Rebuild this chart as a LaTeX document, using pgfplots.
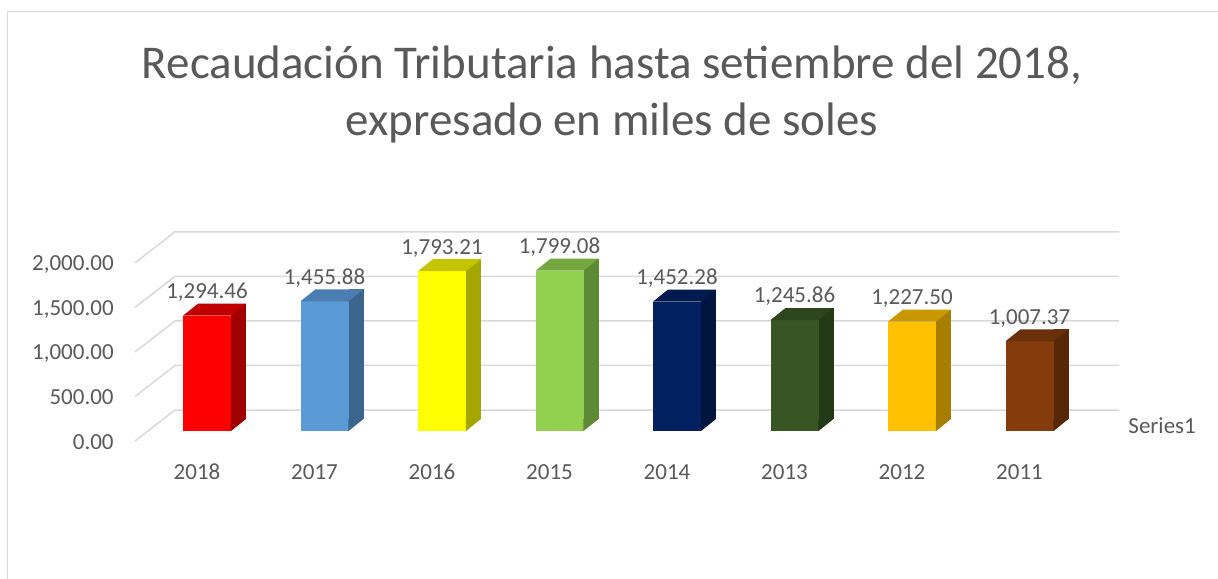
\documentclass[border=0pt]{standalone}
\usepackage{pgfplots}
\pgfplotsset{compat=1.18}
\usepackage{fontspec}
\setmainfont{Carlito}
\definecolor{txt}{HTML}{595959}
\definecolor{gridc}{HTML}{D9D9D9}
\definecolor{fA}{HTML}{FF0000}\definecolor{tA}{HTML}{C00000}\definecolor{sA}{HTML}{A00000}
\definecolor{fB}{HTML}{5B9BD5}\definecolor{tB}{HTML}{4A7EB0}\definecolor{sB}{HTML}{3A658C}
\definecolor{fC}{HTML}{FFFF00}\definecolor{tC}{HTML}{C4C400}\definecolor{sC}{HTML}{A6A600}
\definecolor{fD}{HTML}{92D050}\definecolor{tD}{HTML}{75A840}\definecolor{sD}{HTML}{5E8A34}
\definecolor{fE}{HTML}{002060}\definecolor{tE}{HTML}{001A4E}\definecolor{sE}{HTML}{001540}
\definecolor{fF}{HTML}{375623}\definecolor{tF}{HTML}{2C451C}\definecolor{sF}{HTML}{243A17}
\definecolor{fG}{HTML}{FFC000}\definecolor{tG}{HTML}{C99800}\definecolor{sG}{HTML}{A87E00}
\definecolor{fH}{HTML}{843C0C}\definecolor{tH}{HTML}{6A300A}\definecolor{sH}{HTML}{572808}
\pgfdeclareplotmark{topface}{%
  \pgfpathmoveto{\pgfpoint{-12pt}{0pt}}%
  \pgfpathlineto{\pgfpoint{12pt}{0pt}}%
  \pgfpathlineto{\pgfpoint{19.5pt}{6pt}}%
  \pgfpathlineto{\pgfpoint{-4.5pt}{6pt}}%
  \pgfpathclose\pgfusepathqfill}
\pgfdeclareplotmark{bottri}{%
  \pgfpathmoveto{\pgfpoint{11.9pt}{-0.1pt}}%
  \pgfpathlineto{\pgfpoint{11.9pt}{6.1pt}}%
  \pgfpathlineto{\pgfpoint{19.6pt}{6.1pt}}%
  \pgfpathclose\pgfusepathqfill}
\pgfplotsset{
  side/.style={ybar, bar width=7.5pt, bar shift=15.75pt, yshift=6pt, draw=none, fill=#1},
  front/.style={ybar, bar width=24pt, bar shift=0pt, draw=none, fill=#1},
  topm/.style={only marks, mark=topface, mark options={fill=#1, draw=none}},
  botm/.style={only marks, mark=bottri, mark options={fill=#1, draw=none}},
}
\begin{document}
\begin{tikzpicture}
\useasboundingbox (0,0) rectangle (609pt,-289pt);
\draw[gridc, line width=0.75pt] (3.75pt,-300pt) -- (3.75pt,-5.75pt) -- (620pt,-5.75pt);
\node[anchor=base, text=txt, font=\fontsize{23.5}{28}\selectfont] at (306pt,-39pt) {Recaudación Tributaria hasta setiembre del 2018,};
\node[anchor=base, text=txt, font=\fontsize{23.5}{28}\selectfont] at (306pt,-67.5pt) {expresado en miles de soles};
\begin{axis}[
  at={(74.125pt,-215.5pt)}, anchor=south west,
  scale only axis, width=470pt, height=89.1pt,
  xmin=-0.5, xmax=7.5, ymin=0, ymax=2000,
  clip=false,
  axis line style={draw=none}, tick style={draw=none}, major tick length=0pt,
  xtick={0,...,7},
  xticklabels={2018,2017,2016,2015,2014,2013,2012,2011},
  ytick={0,500,1000,1500,2000},
  yticklabel={\pgfmathprintnumber[fixed, fixed zerofill, precision=2, 1000 sep={,}]{\tick}},
  ticklabel style={font=\fontsize{11.5}{13}\selectfont, text=txt, inner sep=0pt},
  yticklabel style={anchor=base east, xshift=-17.1pt, yshift=-9pt},
  xticklabel style={anchor=base, xshift=-5pt, yshift=-24pt},
  /pgf/number format/assume math mode=true,
]
\pgfplotsinvokeforeach{0,500,1000,1500,2000}{
  \draw[gridc, line width=0.75pt] ([shift={(-6.6pt,-5pt)}]axis cs:-0.5,#1) -- ([shift={(13.4pt,10.5pt)}]axis cs:-0.5,#1) -- ([shift={(13.4pt,10.5pt)}]axis cs:7.534,#1);
}
% 2018
\addplot[side=sA] coordinates {(0,1294.46)};
\addplot[botm=sA] coordinates {(0,0)};
\addplot[topm=tA] coordinates {(0,1294.46)};
\addplot[front=fA] coordinates {(0,1294.46)};
% 2017
\addplot[side=sB] coordinates {(1,1455.88)};
\addplot[botm=sB] coordinates {(1,0)};
\addplot[topm=tB] coordinates {(1,1455.88)};
\addplot[front=fB] coordinates {(1,1455.88)};
% 2016
\addplot[side=sC] coordinates {(2,1793.21)};
\addplot[botm=sC] coordinates {(2,0)};
\addplot[topm=tC] coordinates {(2,1793.21)};
\addplot[front=fC] coordinates {(2,1793.21)};
% 2015
\addplot[side=sD] coordinates {(3,1799.08)};
\addplot[botm=sD] coordinates {(3,0)};
\addplot[topm=tD] coordinates {(3,1799.08)};
\addplot[front=fD] coordinates {(3,1799.08)};
% 2014
\addplot[side=sE] coordinates {(4,1452.28)};
\addplot[botm=sE] coordinates {(4,0)};
\addplot[topm=tE] coordinates {(4,1452.28)};
\addplot[front=fE] coordinates {(4,1452.28)};
% 2013
\addplot[side=sF] coordinates {(5,1245.86)};
\addplot[botm=sF] coordinates {(5,0)};
\addplot[topm=tF] coordinates {(5,1245.86)};
\addplot[front=fF] coordinates {(5,1245.86)};
% 2012
\addplot[side=sG] coordinates {(6,1227.50)};
\addplot[botm=sG] coordinates {(6,0)};
\addplot[topm=tG] coordinates {(6,1227.50)};
\addplot[front=fG] coordinates {(6,1227.50)};
% 2011
\addplot[side=sH] coordinates {(7,1007.37)};
\addplot[botm=sH] coordinates {(7,0)};
\addplot[topm=tH] coordinates {(7,1007.37)};
\addplot[front=fH] coordinates {(7,1007.37)};
% data labels
\addplot[draw=none, mark=none, point meta=y,
  nodes near coords={\pgfmathprintnumber[fixed, fixed zerofill, precision=2, 1000 sep={,}, assume math mode=true]{\pgfplotspointmeta}},
  nodes near coords style={anchor=base, yshift=8.6pt, inner sep=0pt, font=\fontsize{11.5}{13}\selectfont, text=txt}]
  coordinates {(0,1294.46) (1,1455.88) (2,1793.21) (3,1799.08) (4,1452.28) (5,1245.86) (6,1227.50) (7,1007.37)};
\node[anchor=base west, inner sep=0pt, text=txt, font=\fontsize{11.5}{13}\selectfont] at ([shift={(19.9pt,-1pt)}]axis cs:7.5,0) {Series1};
\end{axis}
\end{tikzpicture}
\end{document}
